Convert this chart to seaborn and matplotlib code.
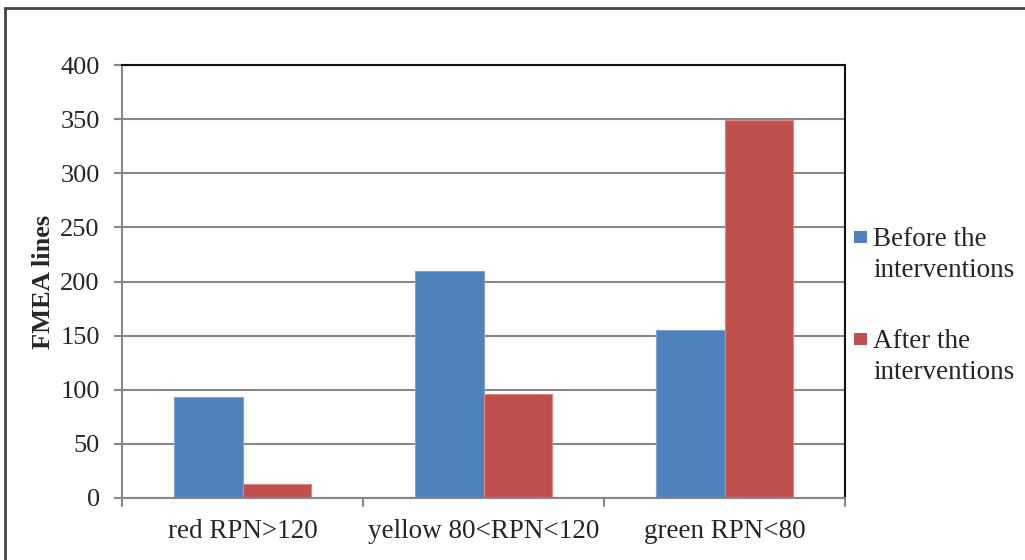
import matplotlib
matplotlib.use("Agg")
import matplotlib.pyplot as plt
import matplotlib.patches as mpatches
import seaborn as sns
import pandas as pd

categories = ["red RPN>120", "yellow 80<RPN<120", "green RPN<80"]
before = [93, 210, 155]
after = [13, 96, 349]
series_names = ["Before the\ninterventions", "After the\ninterventions"]
y_ticks = [0, 50, 100, 150, 200, 250, 300, 350, 400]

df = pd.DataFrame({
    "category": categories * 2,
    "value": before + after,
    "series": [series_names[0]] * 3 + [series_names[1]] * 3,
})

sns.set_theme(style="white")
plt.rcParams["font.family"] = ["Liberation Serif", "DejaVu Serif"]

W, H = 1025, 560
fig = plt.figure(figsize=(W / 100, H / 100), dpi=100)
ax = fig.add_axes([122 / W, 1 - 498 / H, (845 - 122) / W, (498 - 65) / H])

palette = {series_names[0]: "#4F81BD", series_names[1]: "#C0504D"}
sns.barplot(data=df, x="category", y="value", hue="series", order=categories,
            hue_order=series_names, palette=palette, width=0.566, gap=0,
            saturation=1, ax=ax, legend=False, linewidth=0.8)
for i, p in enumerate(ax.patches):
    p.set_edgecolor("#7FA3D3" if i < 3 else "#D88583")

grid_col = "#878787"
ax.set_ylim(0, 400)
ax.set_xlim(-0.5, 2.5)
ax.set_yticks(y_ticks)
ax.set_yticklabels([str(t) for t in y_ticks], fontsize=19)
ax.yaxis.grid(True, color=grid_col, linewidth=1.5)
ax.set_axisbelow(True)

# category labels, with separator ticks between the groups
ax.set_xticks([0, 1, 2])
ax.set_xticklabels(categories, fontsize=19.5)
ax.tick_params(axis="x", length=0, pad=15)
for xb in [-0.5, 0.5, 1.5, 2.5]:
    ax.plot([xb, xb], [0, -0.019], transform=ax.get_xaxis_transform(),
            color=grid_col, linewidth=1.5, clip_on=False)
ax.tick_params(axis="y", length=6, width=1.5, color=grid_col, left=True, pad=10)

ax.spines["left"].set_color(grid_col)
ax.spines["bottom"].set_color(grid_col)
ax.spines["left"].set_linewidth(1.5)
ax.spines["bottom"].set_linewidth(1.5)
ax.spines["top"].set_color("#111111")
ax.spines["right"].set_color("#111111")
ax.spines["top"].set_linewidth(1.5)
ax.spines["right"].set_linewidth(1.5)
for s in ax.spines.values():
    s.set_visible(True)
ax.spines["bottom"].set_zorder(3)

ax.set_xlabel("")
ax.set_ylabel("FMEA lines", fontsize=19, fontweight="bold")
ax.yaxis.set_label_coords((55 - 122) / (845 - 122), 0.5)

# legend: coloured square beside the first line of each two-line label
legend_rows = [237, 339]
for name, yc in zip(series_names, legend_rows):
    fig.patches.append(mpatches.Rectangle((854 / W, 1 - (yc + 6) / H), 13 / W, 12 / H,
                                          transform=fig.transFigure,
                                          facecolor=palette[name], edgecolor="none"))
    fig.text(873 / W, 1 - (yc - 10) / H, name, fontsize=19.5, va="top", ha="left",
             linespacing=1.33)

# outer chart frame
fig.patches.append(mpatches.Rectangle((5 / W, -0.05), 1.2, 1 - 8 / H + 0.05,
                                      transform=fig.transFigure, fill=False,
                                      edgecolor="#444444", linewidth=2))

fig.savefig("out.png", dpi=100)
